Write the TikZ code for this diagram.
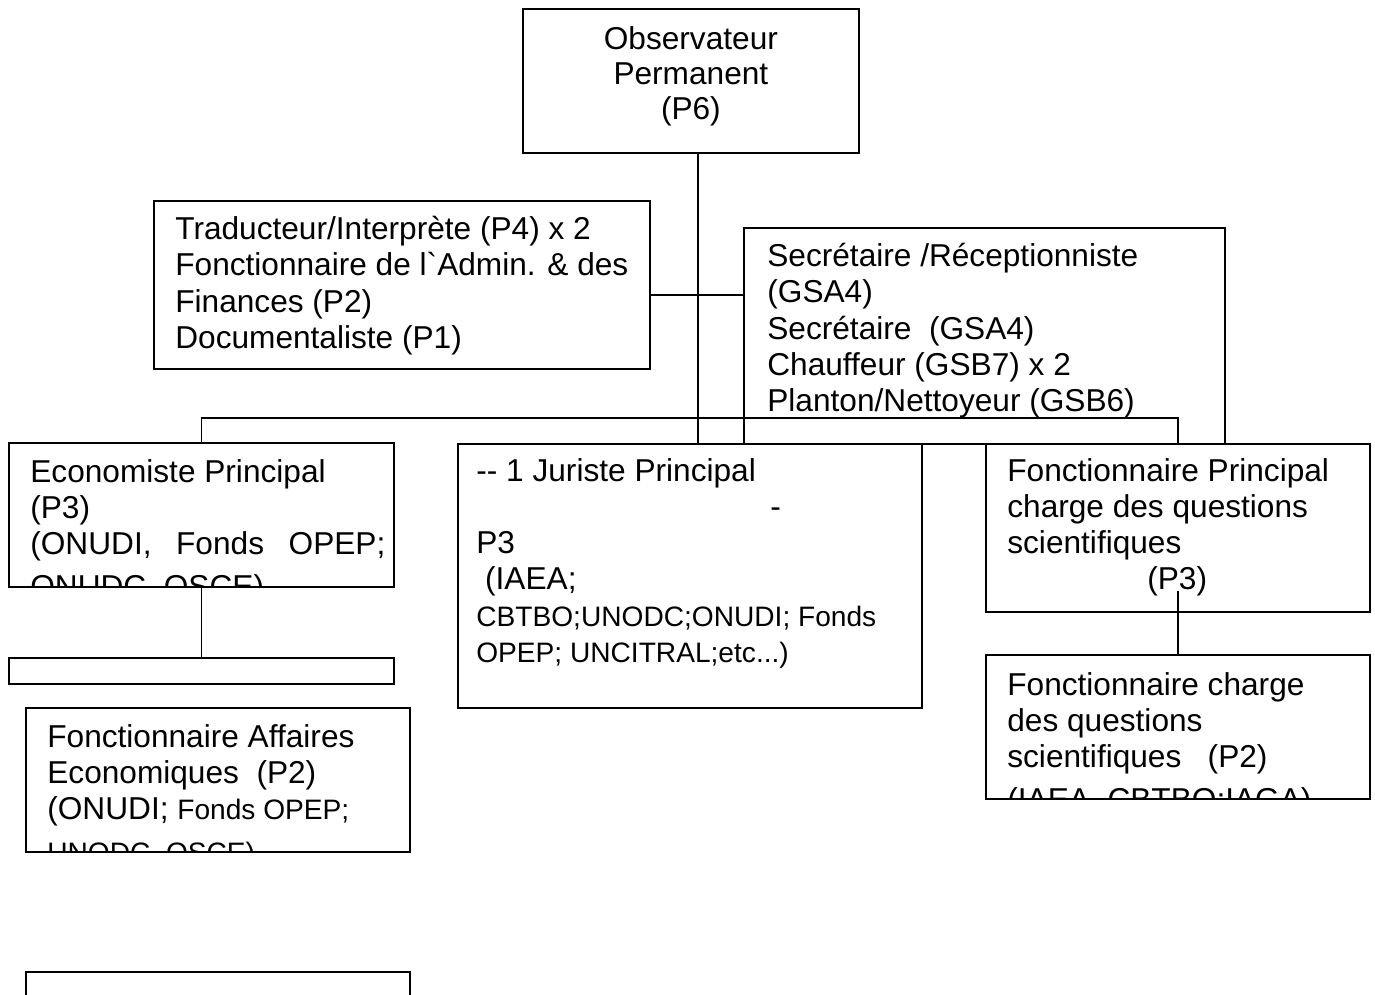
\documentclass[tikz,border=0pt]{standalone}
\usepackage{fontspec}
\setmainfont{Liberation Sans}
\usetikzlibrary{positioning}
\newcommand{\smallfs}[1]{{\fontsize{16}{20.5}\selectfont #1}}

\begin{document}
\begin{tikzpicture}[
    box/.style={
        draw=black, line width=1pt, fill=white,
        anchor=north west, inner sep=0pt
    },
    label/.style={
        anchor=north west, align=left, inner sep=0pt,
        font=\fontsize{18}{20.6}\selectfont,
        execute at begin node=\strut
    },
    link/.style={draw=black, line width=0.8pt}
]

% ---- Page size of the chart ----
\useasboundingbox (0,0) rectangle (27.5,-19.88);

% ---- Head and the two staff boxes beside the trunk ----
\node[box, minimum width=6.72cm, minimum height=2.88cm] (obs)  at (10.44,-0.16) {};
\node[label, anchor=north, align=center, font=\fontsize{18}{19.9}\selectfont,
      below=0.36cm of obs.north] (obst)
     {Observateur\\Permanent\\(P6)};

\node[box, minimum width=9.92cm, minimum height=3.36cm] (trad) at (3.06,-4.00) {};
\node[label, below right=0.32cm and 0.44cm of trad.north west] (tradt)
     {Traducteur/Interprète (P4) x 2\\
      Fonctionnaire de l\textasciigrave Admin. \& des\\
      Finances (P2)\\
      Documentaliste (P1)};

\node[box, minimum width=9.62cm, minimum height=4.32cm] (sec)  at (14.86,-4.54) {};
\node[label, below right=0.32cm and 0.48cm of sec.north west] (sect)
     {Secrétaire /Réceptionniste\\
      (GSA4)\\
      Secrétaire\ \ (GSA4)\\
      Chauffeur (GSB7) x 2\\
      Planton/Nettoyeur (GSB6)};

% ---- Trunk, tie and bus ----
\coordinate (trunk) at (13.96,0);
\coordinate (tie)   at (0,-5.90);
\coordinate (bus)   at (0,-8.36);

\node[box, minimum width=7.70cm, minimum height=2.88cm] (eco) at (0.16,-8.84) {};
\node[box, minimum width=9.28cm, minimum height=5.28cm] (jur) at (9.14,-8.86) {};
\node[box, minimum width=7.68cm, minimum height=3.36cm] (fp)  at (19.70,-8.86) {};

\draw[link] (obs.south -| trunk) -- (jur.north -| trunk);
\draw[link] (trad.east |- tie) -- (sec.west |- tie);
\draw[link] (eco.north) -- (eco.north |- bus) -- (fp.north |- bus) -- (fp.north);

% ---- Second row ----
\begin{scope}
  \clip (eco.north west) rectangle (eco.south east);
  \node[label, below right=0.34cm and 0.44cm of eco.north west] (ecot)
       {Economiste Principal\\
        (P3)\\
        \makebox[7.1cm][s]{(ONUDI, Fonds OPEP;}\\[4pt]
        ONUDC, OSCE)};
\end{scope}

\node[label, below right=0.30cm and 0.38cm of jur.north west] (jurt)
     {-{}- 1 Juriste Principal\\
      \hspace*{5.88cm}-\\
      P3\\
      \ (IAEA;\\
      \smallfs{CBTBO;UNODC;ONUDI; Fonds}\\
      \smallfs{OPEP; UNCITRAL;etc...)}};

\node[label, below right=0.30cm and 0.44cm of fp.north west] (fpt)
     {Fonctionnaire Principal\\
      charge des questions\\
      scientifiques\\
      \hspace*{2.8cm}(P3)};

% ---- Lower boxes ----
\node[box, minimum width=7.70cm, minimum height=0.52cm] (eb) at (0.16,-13.14) {};
\draw[link] (eco.south) -- (eb.north);

\node[box, minimum width=7.68cm, minimum height=2.88cm] (fs) at (19.70,-13.08) {};
\draw[link] ([yshift=0.44cm]fp.south) -- (fs.north);
\begin{scope}
  \clip (fs.north west) rectangle (fs.south east);
  \node[label, below right=0.36cm and 0.44cm of fs.north west] (fst)
       {Fonctionnaire charge\\
        des questions\\
        scientifiques\ \ \ (P2)\\[4pt]
        (IAEA, CBTBO;IAGA)};
\end{scope}

\node[box, minimum width=7.68cm, minimum height=2.88cm] (fa) at (0.50,-14.14) {};
\begin{scope}
  \clip (fa.north west) rectangle (fa.south east);
  \node[label, below right=0.34cm and 0.44cm of fa.north west] (fat)
       {Fonctionnaire Affaires\\
        Economiques\ \ (P2)\\
        (ONUDI; \smallfs{Fonds OPEP;}\\[4pt]
        \smallfs{UNODC, OSCE)}};
\end{scope}

\node[box, minimum width=7.68cm, minimum height=1.00cm] (lb) at (0.50,-19.42) {};

\end{tikzpicture}
\end{document}
